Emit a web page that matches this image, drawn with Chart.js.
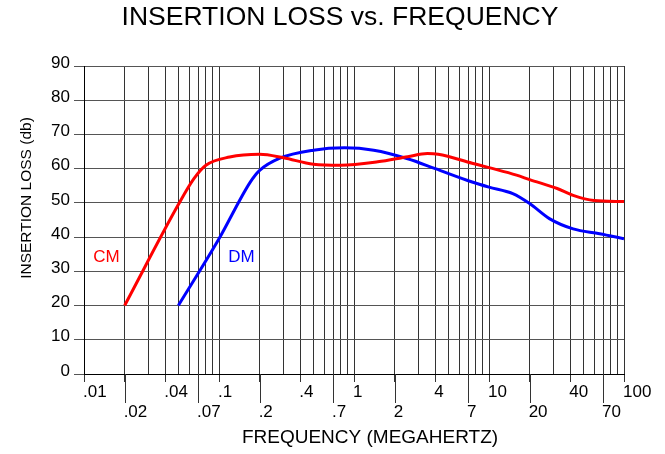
<!DOCTYPE html>
<html>
<head>
<meta charset="utf-8">
<script src="https://cdn.jsdelivr.net/npm/chart.js@4.4.1/dist/chart.umd.min.js"></script>
<style>
  html, body { margin: 0; padding: 0; background: #fff; }
</style>
</head>
<body>
<canvas id="lossChart" width="665" height="454"></canvas>
<script>
// CM curve
const cmFreq = [0.02, 0.05, 0.065, 0.08, 0.12, 0.2, 0.3, 0.5, 0.8, 1.5, 2.5, 3.5, 4.2, 7.5, 10, 16, 20, 32, 42, 60, 100];
const cmLoss = [20, 49.5, 57, 61, 63.4, 64.2, 63.2, 61.3, 61, 62, 63.5, 64.4, 64.2, 61.6, 60.3, 58.1, 56.8, 54.2, 52.2, 50.7, 50.4];

// DM curve
const dmFreq = [0.05, 0.1, 0.17, 0.2, 0.28, 0.5, 0.85, 1.4, 2.5, 4, 7.5, 10, 15, 20, 28, 42, 66, 100];
const dmLoss = [20, 39.5, 56, 59.5, 63, 65.4, 66.1, 65.4, 62.9, 60, 56.1, 54.6, 52.7, 49.8, 45.4, 42.4, 41, 39.5];

// labelled x ticks, in two staggered rows
const upperTicks = [0.01, 0.04, 0.1, 0.4, 1, 4, 10, 40, 100];
const lowerTicks = [0.02, 0.07, 0.2, 0.7, 2, 7, 20, 70];

// where the curve names sit (freq, loss)
const cmLabelAt = [0.0117, 34];
const dmLabelAt = [0.117, 34];

const titleText = 'INSERTION LOSS vs. FREQUENCY';
const xTitle = 'FREQUENCY (MEGAHERTZ)';
const yTitle = 'INSERTION LOSS (db)';

const FONT = '"Liberation Sans", Arial, Helvetica, sans-serif';
Chart.defaults.font.family = FONT;
Chart.defaults.color = '#000';

// grid lines at every 1..9 of each decade
const gridVals = [];
for (let k = -2; k <= 1; k++) {
    for (let m = 1; m <= 9; m++) gridVals.push(+(m * Math.pow(10, k)).toPrecision(3));
}
gridVals.push(100);

const same = (a, b) => Math.abs(a - b) / b < 1e-6;
const inList = (list, v) => list.some(t => same(t, v));
const fmt = v => v < 1 ? String(v).replace(/^0/, '') : String(v);

const toPoints = (xs, ys) => xs.map((f, i) => ({ x: f, y: ys[i] }));

// titles, longer ticks for the lower label row, curve names
const extras = {
    id: 'extras',
    afterDraw(chart) {
        const { ctx, scales: { x, y } } = chart;
        ctx.save();
        ctx.strokeStyle = '#333';
        ctx.lineWidth = 1;
        lowerTicks.forEach(v => {
            const px = Math.round(x.getPixelForValue(v)) + 0.5;
            ctx.beginPath();
            ctx.moveTo(px, y.bottom);
            ctx.lineTo(px, y.bottom + 29);
            ctx.stroke();
        });

        ctx.textBaseline = 'middle';
        ctx.textAlign = 'left';
        ctx.font = '17px ' + FONT;
        ctx.fillStyle = '#ff0000';
        ctx.fillText(chart.data.datasets[0].label, x.getPixelForValue(cmLabelAt[0]), y.getPixelForValue(cmLabelAt[1]));
        ctx.fillStyle = '#0000ff';
        ctx.fillText(chart.data.datasets[1].label, x.getPixelForValue(dmLabelAt[0]), y.getPixelForValue(dmLabelAt[1]));

        ctx.fillStyle = '#000';
        ctx.textAlign = 'center';
        ctx.font = '26.5px ' + FONT;
        ctx.fillText(titleText, 340, 18);
        ctx.font = '19px ' + FONT;
        ctx.fillText(xTitle, 370, 438);

        ctx.translate(27, 198);
        ctx.rotate(-Math.PI / 2);
        ctx.font = '15.5px ' + FONT;
        ctx.fillText(yTitle, 0, 0);
        ctx.restore();
    }
};

new Chart(document.getElementById('lossChart'), {
    type: 'line',
    data: {
        datasets: [
            {
                label: 'CM',
                data: toPoints(cmFreq, cmLoss),
                borderColor: '#ff0000',
                borderWidth: 3,
                pointRadius: 0,
                cubicInterpolationMode: 'monotone'
            },
            {
                label: 'DM',
                data: toPoints(dmFreq, dmLoss),
                borderColor: '#0000ff',
                borderWidth: 3,
                pointRadius: 0,
                cubicInterpolationMode: 'monotone'
            }
        ]
    },
    options: {
        responsive: false,
        animation: false,
        devicePixelRatio: 1,
        layout: { padding: { left: 0, right: 41, top: 66, bottom: 0 } },
        plugins: {
            legend: { display: false },
            tooltip: { enabled: false },
            title: { display: false }
        },
        scales: {
            x: {
                type: 'logarithmic',
                min: 0.01,
                max: 100,
                afterBuildTicks: s => { s.ticks = gridVals.map(v => ({ value: v })); },
                afterFit: s => { s.height = 80; },
                ticks: {
                    autoSkip: false,
                    maxRotation: 0,
                    padding: 0,
                    align: 'start',
                    labelOffset: -1,
                    font: { size: 17, lineHeight: 1.2 },
                    callback: v => {
                        if (inList(upperTicks, v)) return fmt(v);
                        if (inList(lowerTicks, v)) return ['', fmt(v)];
                        return '';
                    }
                },
                grid: {
                    color: '#333',
                    tickLength: 8,
                    tickColor: c => (c.tick && (inList(upperTicks, c.tick.value) || inList(lowerTicks, c.tick.value))) ? '#333' : 'rgba(0,0,0,0)'
                },
                border: { color: '#000' }
            },
            y: {
                min: 0,
                max: 90,
                afterFit: s => { s.width = 84; },
                ticks: { stepSize: 10, padding: 4, labelOffset: -3, font: { size: 17 } },
                grid: { color: '#555', tickLength: 10, tickColor: '#555' },
                border: { color: '#000' }
            }
        }
    },
    plugins: [extras]
});
</script>
</body>
</html>
